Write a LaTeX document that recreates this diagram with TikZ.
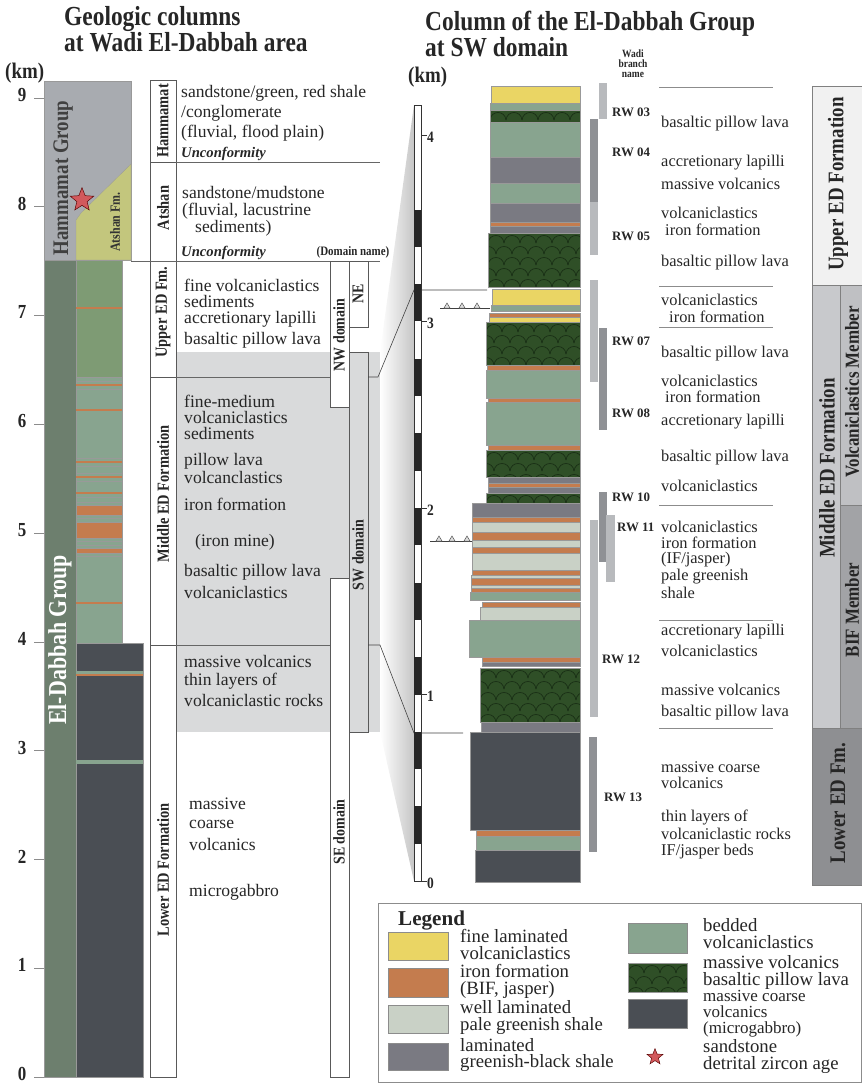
\documentclass[tikz,border=0pt]{standalone}
\usepackage{fontspec}
\setmainfont{Liberation Serif}
\newfontfamily\condfont{Liberation Serif}[FakeStretch=0.85]
\usetikzlibrary{shapes.geometric}

% rock colours
\definecolor{hamgray}{HTML}{A8ABB0}
\definecolor{atshan}{HTML}{C3C67D}
\definecolor{edstrip}{HTML}{6D7F6E}
\definecolor{upgreen}{HTML}{7E9B74}
\definecolor{bedded}{HTML}{88A48F}
\definecolor{ironf}{HTML}{C47C4E}
\definecolor{paleshale}{HTML}{C9D1C6}
\definecolor{blackshale}{HTML}{7A7A82}
\definecolor{coarse}{HTML}{4A4E54}
\definecolor{pillowbg}{HTML}{2F4F27}
\definecolor{pillowln}{HTML}{1A3016}
\definecolor{finelam}{HTML}{EAD564}
\definecolor{zircon}{HTML}{D2595C}
% panel greys
\definecolor{domaingray}{HTML}{D9DADB}
\definecolor{rwlight}{HTML}{B8BABD}
\definecolor{rwdark}{HTML}{8F9195}
\definecolor{fmupper}{HTML}{F1F1F1}
\definecolor{fmmiddle}{HTML}{C8C9CC}
\definecolor{fmvolc}{HTML}{BFC0C3}
\definecolor{fmbif}{HTML}{A2A3A6}
\definecolor{fmlower}{HTML}{8E8F92}

% pillow lava bed: x1 y1 x2 y2
\newcommand{\pillowbed}[4]{%
  \begin{scope}
    \clip (#1,#2) rectangle (#3,#4);
    \fill[pillowbg] (#1,#2) rectangle (#3,#4);
    \foreach \prow in {0,...,7}{
      \foreach \pcol in {0,...,9}{
        \pgfmathsetmacro\pilx{#1-8*mod(\prow,2)+16*\pcol}
        \pgfmathsetmacro\pily{#2+10+11*\prow}
        \draw[pillowln, line width=0.6pt] (\pilx,\pily) .. controls (\pilx+1,\pily-10) and (\pilx+15,\pily-10) .. (\pilx+16,\pily);
      }
    }
  \end{scope}
  \draw[draw=black!40, line width=0.25pt] (#1,#2) rectangle (#3,#4);}

% small triangle marker on a horizon line
\newcommand{\trimark}[2]{\draw[black!70, fill=gray!25, line width=0.4pt] (#1-3,#2) -- (#1,#2-5) -- (#1+3,#2) -- cycle;}

\begin{document}
\begin{tikzpicture}[
    x=0.3mm, y=-0.3mm,
    layer/.style={draw=black!40, line width=0.25pt},
    namebox/.style={draw=black!65, line width=0.5pt, fill=white},
    sepline/.style={draw=black!60, line width=0.5pt},
    thinline/.style={draw=black!45, line width=0.4pt},
    tieline/.style={draw=black!75, line width=0.5pt},
    title/.style={anchor=base west, inner sep=0, text=black!85,
        font=\condfont\bfseries\fontsize{23.5}{26}\selectfont},
    kmlabel/.style={inner sep=0, text=black!85,
        font=\condfont\bfseries\fontsize{19}{20}\selectfont},
    axnum/.style={inner sep=0, text=black!85,
        font=\condfont\bfseries\fontsize{17}{17}\selectfont},
    raxnum/.style={anchor=west, inner sep=0, text=black!85,
        font=\condfont\bfseries\fontsize{13.5}{14}\selectfont},
    fmlabel/.style={rotate=90, inner sep=0, text=black!85,
        font=\condfont\bfseries\fontsize{14.5}{15}\selectfont},
    barlabel/.style={rotate=90, inner sep=0, text=black!85,
        font=\condfont\bfseries\fontsize{19}{20}\selectfont},
    memberlabel/.style={rotate=90, inner sep=0, text=black!85,
        font=\condfont\bfseries\fontsize{17}{18}\selectfont},
    desc/.style={anchor=west, inner sep=0, text=black!85,
        font=\fontsize{15}{16}\selectfont},
    rdesc/.style={anchor=west, inner sep=0, text=black!85,
        font=\fontsize{14}{16}\selectfont},
    uncon/.style={anchor=west, inner sep=0, text=black!85,
        font=\bfseries\itshape\fontsize{12.5}{13}\selectfont},
    rwlabel/.style={anchor=west, inner sep=0, text=black!85,
        font=\bfseries\fontsize{11}{12}\selectfont},
    legtext/.style={anchor=west, inner sep=0, align=left, text=black!85,
        font=\fontsize{16}{14.5}\selectfont},
    swatch/.style={draw=black!45, line width=0.4pt},
    zirconstar/.style={star, star points=5, star point ratio=2.3,
        fill=zircon, draw=red!35!black, line width=0.4pt, inner sep=0}
]
\useasboundingbox (0,0) rectangle (862,1083);

% ============ Titles ============
\node[title] (ttlA) at (64,26) {Geologic columns};
\node[title] (ttlB) at (64,51) {at Wadi El-Dabbah area};
\node[title] (ttlC) at (425,31) {Column of the El-Dabbah Group};
\node[title] (ttlD) at (425,56) {at SW domain};
\node[kmlabel, anchor=base west] (kmL) at (5,78) {(km)};
\node[kmlabel, anchor=base west] (kmR) at (408,82) {(km)};

% ============ SW domain band and zoom funnel ============
\fill[domaingray] (176,352) rectangle (380,732);
\shade[left color=white, right color=gray!45] (380,352) -- (414,105) -- (414,881) -- (380,732) -- cycle;

% ============ Left depth axis ============
\foreach \k in {0,...,9}{
    \draw[thinline] (34,{1077-108.8*\k}) -- (44,{1077-108.8*\k});
    \node[axnum] (lax\k) at (22,{1074-108.8*\k}) {\k};
}

% ============ Left lithologic column ============
\fill[hamgray, layer] (44,81) rectangle (131,260);
\fill[atshan, layer] (76,260) -- (76,220) -- (81,213) -- (131,164) -- (131,260) -- cycle;
\node[zirconstar, minimum size=7.4mm] (star) at (82,200) {};
\node[barlabel, text=black!75] (hamgrp) at (63,178) {Hammamat Group};
\node[fmlabel, font=\condfont\bfseries\fontsize{12}{12}\selectfont, text=black!80] (atsfm) at (115,222) {Atshan Fm.};

\fill[edstrip, layer] (44,260) rectangle (76,1077);
\fill[upgreen, layer] (76,260) rectangle (122,377);
\fill[ironf] (76,307) rectangle (122,309);
\fill[bedded, layer] (76,377) rectangle (122,643);
\foreach \yy in {381,389,458,466,473,481,497,502,518,541,545,556}
    \draw[black!40, line width=0.3pt] (76,\yy) -- (122,\yy);
\foreach \yy in {385,410,462,477,493,603}
    \fill[ironf] (76,\yy-1.2) rectangle (122,\yy+1.2);
\fill[ironf, layer] (76,505) rectangle (122,515);
\fill[ironf, layer] (76,522) rectangle (122,538);
\fill[ironf, layer] (76,548) rectangle (122,553);
\fill[coarse, layer] (76,643) rectangle (143,1077);
\fill[bedded] (76,671) rectangle (143,674);
\fill[ironf] (76,674) rectangle (143,676);
\fill[bedded] (76,760) rectangle (143,764);
\node[barlabel, text=white, font=\condfont\bfseries\fontsize{22}{22}\selectfont] (edgrp) at (60,640) {El-Dabbah Group};

% ============ Formation name column ============
\draw[namebox] (150,80) rectangle (176,162);
\draw[namebox] (150,162) rectangle (176,261);
\draw[namebox] (150,261) rectangle (176,377);
\draw[namebox] (150,377) rectangle (176,645);
\draw[namebox] (150,645) rectangle (176,1077);
\node[fmlabel] (fmham) at (163,121) {Hammamat};
\node[fmlabel] (fmats) at (163,208) {Atshan};
\node[fmlabel] (fmup) at (163,312) {Upper ED Fm.};
\node[fmlabel] (fmmid) at (163,494) {Middle ED Formation};
\node[fmlabel] (fmlow) at (163,870) {Lower ED Formation};

% ============ Boundaries ============
\draw[sepline] (176,162) -- (380,162);
\draw[sepline] (131,261) -- (380,261);
\draw[sepline] (176,377) -- (330,377);
\draw[sepline] (176,645) -- (330,645);

% ============ Domain boxes ============
\node[inner sep=0, text=black!85, font=\condfont\bfseries\fontsize{11}{11}\selectfont] (domtitle) at (353,252) {(Domain name)};
\draw[namebox] (330,261) rectangle (349,407);
\draw[namebox] (349,261) rectangle (368,327);
\draw[namebox, fill=domaingray] (349,352) rectangle (368,732);
\draw[namebox] (330,578) rectangle (349,1077);
\node[fmlabel, font=\condfont\bfseries\fontsize{14}{14}\selectfont] (dnw) at (339,335) {NW domain};
\node[fmlabel, font=\condfont\bfseries\fontsize{14}{14}\selectfont] (dne) at (358,294) {NE};
\node[fmlabel, font=\condfont\bfseries\fontsize{14}{14}\selectfont] (dsw) at (358,555) {SW domain};
\node[fmlabel, font=\condfont\bfseries\fontsize{14}{14}\selectfont] (dse) at (339,832) {SE domain};

% ============ Left descriptions ============
\foreach \yy/\tx [count=\i] in {93/{sandstone/green, red shale}, 113/{/conglomerate}, 133/{(fluvial, flood plain)}}
    \node[desc] (dham\i) at (181,\yy) {\tx};
\node[uncon] (unconA) at (181,154) {Unconformity};
\node[desc] (dats1) at (182,192) {sandstone/mudstone};
\node[desc] (dats2) at (182,211) {(fluvial, lacustrine};
\node[desc] (dats3) at (195,228) {sediments)};
\node[uncon] (unconB) at (181,253) {Unconformity};
\foreach \yy/\tx [count=\i] in {285/fine volcaniclastics, 301/sediments, 319/accretionary lapilli, 340/basaltic pillow lava}
    \node[desc] (dup\i) at (184,\yy) {\tx};
\foreach \yy/\tx [count=\i] in {401/fine-medium, 417/volcaniclastics, 433/sediments, 461/pillow lava, 477/volcanclastics, 504/iron formation, 572/basaltic pillow lava, 592/volcaniclastics}
    \node[desc] (dmid\i) at (184,\yy) {\tx};
\node[desc] (dmine) at (195,542) {(iron mine)};
\foreach \yy/\tx [count=\i] in {661/massive volcanics, 681/thin layers of, 700/volcaniclastic rocks}
    \node[desc] (dthin\i) at (184,\yy) {\tx};
\foreach \yy/\tx [count=\i] in {804/massive, 824/coarse, 844/volcanics, 892/microgabbro}
    \node[desc] (dlow\i) at (189,\yy) {\tx};

% ============ Tie lines to the SW column ============
\draw[tieline] (368,377) -- (378,377) -- (414,290) -- (487,290);
\draw[tieline] (368,645) -- (380,645) -- (414,733) -- (463,733);

% ============ Right depth scale ============
\draw[fill=white, draw=black!80, line width=0.4pt] (414,105) rectangle (421,881);
\foreach \k in {0.2,0.6,...,3.8}
    \fill[black!85] (414,{881-186.5*\k}) rectangle (421,{881-186.5*(\k+0.2)});
\foreach \k in {0,...,4}{
    \draw[black!80, line width=0.4pt] (421,{881-186.5*\k}) -- (427,{881-186.5*\k});
    \node[raxnum] (rax\k) at (427,{883-186.5*\k}) {\k};
}

% ============ SW domain column ============
\fill[finelam, layer] (491,86) rectangle (580,103);
\fill[bedded, layer] (490,103) rectangle (580,110);
\pillowbed{490}{110}{580}{122}
\fill[bedded, layer] (490,122) rectangle (580,157);
\fill[blackshale, layer] (490,157) rectangle (580,183);
\fill[bedded, layer] (490,183) rectangle (580,203);
\fill[blackshale, layer] (490,203) rectangle (580,222);
\fill[ironf, layer] (490,222) rectangle (580,226);
\fill[blackshale, layer] (490,226) rectangle (580,233);
\pillowbed{488}{233}{580}{287}
\fill[finelam, layer] (492,289) rectangle (580,305);
\fill[bedded, layer] (491,305) rectangle (580,311);
\fill[ironf, layer] (489,313) rectangle (580,317);
\fill[finelam, layer] (489,317) rectangle (580,322);
\pillowbed{486}{322}{580}{365}
\fill[ironf, layer] (487,365) rectangle (580,370);
\fill[bedded, layer] (486,370) rectangle (580,398);
\fill[ironf, layer] (488,398) rectangle (580,402);
\fill[bedded, layer] (486,402) rectangle (580,445);
\fill[ironf, layer] (488,445) rectangle (580,450);
\pillowbed{486}{450}{580}{477}
\fill[blackshale, layer] (488,477) rectangle (580,483);
\fill[ironf, layer] (488,483) rectangle (580,487);
\fill[blackshale, layer] (488,487) rectangle (580,493);
\pillowbed{486}{493}{580}{503}
\fill[blackshale, layer] (472,503) rectangle (580,517);
\fill[ironf, layer] (472,517) rectangle (580,522);
\fill[paleshale, layer] (472,522) rectangle (580,532);
\fill[ironf, layer] (472,532) rectangle (580,540);
\fill[paleshale, layer] (472,540) rectangle (580,547);
\fill[ironf, layer] (472,547) rectangle (580,553);
\fill[paleshale, layer] (472,553) rectangle (580,570);
\fill[ironf, layer] (472,570) rectangle (580,575);
\fill[paleshale, layer] (471,575) rectangle (580,578);
\fill[ironf, layer] (471,578) rectangle (580,585);
\fill[paleshale, layer] (471,585) rectangle (580,588);
\fill[ironf, layer] (471,588) rectangle (580,592);
\fill[bedded, layer] (470,592) rectangle (580,600);
\fill[ironf, layer] (482,602) rectangle (580,607);
\fill[paleshale, layer] (480,607) rectangle (580,620);
\fill[bedded, layer] (469,620) rectangle (580,657);
\fill[ironf, layer] (482,657) rectangle (580,662);
\fill[blackshale, layer] (482,662) rectangle (580,666);
\pillowbed{480}{668}{580}{722}
\fill[blackshale, layer] (481,722) rectangle (580,732);
\fill[coarse, layer] (470,732) rectangle (580,830);
\fill[ironf, layer] (476,830) rectangle (580,836);
\fill[bedded, layer] (476,836) rectangle (580,850);
\fill[coarse, layer] (475,850) rectangle (580,882);

% horizons with triangle marks
\draw[tieline] (440,308) -- (490,308);
\foreach \xx in {447,462,477} {\trimark{\xx}{308}}
\draw[tieline] (430,541) -- (472,541);
\foreach \xx in {439,452,467} {\trimark{\xx}{541}}

% ============ Wadi branches ============
\node[align=center, inner sep=0, text=black!85, font=\condfont\bfseries\fontsize{9.5}{8.5}\selectfont] (wadihead) at (633,64) {Wadi\\branch\\name};
\fill[rwlight] (599,83) rectangle (607,119);
\fill[rwdark] (590,119) rectangle (598,202);
\fill[rwlight] (590,202) rectangle (598,255);
\fill[rwlight] (590,280) rectangle (598,382);
\fill[rwdark] (599,328) rectangle (607,430);
\fill[rwdark] (599,492) rectangle (607,562);
\fill[rwlight] (606,515) rectangle (615,582);
\fill[rwlight] (590,520) rectangle (598,717);
\fill[rwdark] (589,737) rectangle (597,852);
\foreach \xx/\yy/\tx in {612/112/03, 612/152/04, 612/236/05, 612/341/07, 612/413/08, 612/497/10, 617/527/11, 602/659/12, 604/797/13}
    \node[rwlabel] (rw\tx) at (\xx,\yy) {RW \tx};

% ============ Right descriptions ============
\foreach \yy in {87,286,327,505,620,728}
    \draw[draw=black!45, line width=0.5pt] (659,\yy) -- (773,\yy);
\foreach \xx/\yy/\tx [count=\i] in {661/124/basaltic pillow lava, 661/163/accretionary lapilli, 661/184/massive volcanics, 661/213/volcaniclastics, 665/230/iron formation, 661/263/basaltic pillow lava, 661/300/volcaniclastics, 669/317/iron formation, 661/354/basaltic pillow lava, 661/381/volcaniclastics, 665/397/iron formation, 661/422/accretionary lapilli, 661/458/basaltic pillow lava, 661/486/volcaniclastics, 661/527/volcaniclastics, 661/543/iron formation, 661/560/{(IF/jasper)}, 661/577/pale greenish, 661/593/shale, 661/632/accretionary lapilli, 661/651/volcaniclastics, 661/690/massive volcanics, 661/713/basaltic pillow lava, 661/767/massive coarse, 661/783/volcanics, 661/817/thin layers of, 661/834/volcaniclastic rocks, 661/852/{IF/jasper beds}}
    \node[rdesc] (rd\i) at (\xx,\yy) {\tx};

% ============ Formation bars ============
\draw[fill=fmupper, draw=black!50, line width=0.5pt] (812,86) rectangle (862,285);
\draw[fill=fmmiddle, draw=black!50, line width=0.5pt] (812,285) rectangle (840,728);
\draw[fill=fmvolc, draw=black!50, line width=0.5pt] (840,285) rectangle (862,505);
\draw[fill=fmbif, draw=black!50, line width=0.5pt] (840,505) rectangle (862,728);
\draw[fill=fmlower, draw=black!50, line width=0.5pt] (812,728) rectangle (862,885);
\node[barlabel] (barup) at (838,184) {Upper ED Formation};
\node[barlabel] (barmid) at (827,468) {Middle ED Formation};
\node[memberlabel] (barvolc) at (852,392) {Volcaniclastics Member};
\node[memberlabel] (barbif) at (852,610) {BIF Member};
\node[barlabel] (barlow) at (838,803) {Lower ED Fm.};

% ============ Legend ============
\draw[draw=black!45, line width=0.6pt, fill=white] (378,903) rectangle (861.5,1082.5);
\node[anchor=base west, inner sep=0, text=black!85, font=\bfseries\fontsize{18}{18}\selectfont] (legtitle) at (398,925) {Legend};
\fill[finelam, swatch] (388,932) rectangle (448,960);
\fill[ironf, swatch] (388,968) rectangle (448,997);
\fill[paleshale, swatch] (388,1005) rectangle (448,1033);
\fill[blackshale, swatch] (388,1043) rectangle (448,1070);
\fill[bedded, swatch] (628,923) rectangle (687,953);
\pillowbed{628}{963}{687}{992}
\fill[coarse, swatch] (628,999) rectangle (687,1028);
\node[zirconstar, minimum size=5mm] (legstar) at (655,1057) {};
\node[legtext] (lgfine) at (460,944) {fine laminated\\volcaniclastics};
\node[legtext] (lgiron) at (460,981) {iron formation\\(BIF, jasper)};
\node[legtext] (lgpale) at (460,1018) {well laminated\\pale greenish shale};
\node[legtext] (lgblack) at (460,1055) {laminated\\greenish-black shale};
\node[legtext] (lgbed) at (703,934) {bedded\\volcaniclastics};
\node[legtext] (lgpil) at (703,972) {massive volcanics\\basaltic pillow lava};
\node[legtext, font=\fontsize{14.5}{13.5}\selectfont] (lgcoarse) at (703,1014) {massive coarse\\volcanics\\(microgabbro)};
\node[legtext] (lgstar) at (703,1057) {sandstone\\detrital zircon age};

\end{tikzpicture}
\end{document}
